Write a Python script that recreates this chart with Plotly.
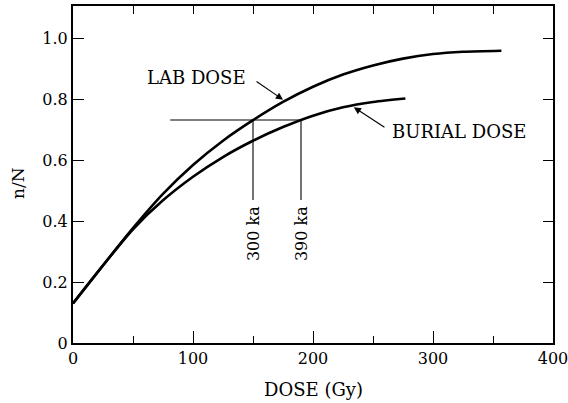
import plotly.graph_objects as go

# ---- data ----
lab_x = [0, 25, 50, 75, 100, 125, 150, 175, 200, 225, 250, 275, 300, 325, 357]
lab_y = [0.130, 0.255, 0.3775, 0.490, 0.585, 0.665, 0.7325, 0.7925, 0.8425, 0.8825,
         0.9125, 0.935, 0.950, 0.9575, 0.961]

burial_x = [0, 25, 50, 75, 100, 125, 150, 175, 200, 225, 250, 277]
burial_y = [0.130, 0.255, 0.374, 0.469, 0.5465, 0.6115, 0.665, 0.710, 0.7475, 0.775,
            0.7925, 0.804]

match_y = 0.733          # n/N level used for the dose match
match_x_start = 81       # left end of horizontal line
age_doses = [150, 190]   # doses where the level meets each curve
age_labels = ["300 ka", "390 ka"]
age_line_bottom = 0.47
age_label_y = 0.358

x_ticks = [0, 100, 200, 300, 400]
x_ticklabels = ["0", "100", "200", "300", "400"]
y_ticks = [0, 0.2, 0.4, 0.6, 0.8, 1.0]
y_ticklabels = ["0", "0.2", "0.4", "0.6", "0.8", "1.0"]

FONT = "DejaVu Serif"
BLACK = "black"

fig = go.Figure()

for xs, ys in ((lab_x, lab_y), (burial_x, burial_y)):
    fig.add_trace(go.Scatter(x=xs, y=ys, mode="lines",
                             line=dict(color=BLACK, width=2.6, shape="spline", smoothing=0.8),
                             hoverinfo="skip", showlegend=False))

# horizontal matching line
fig.add_trace(go.Scatter(x=[match_x_start, age_doses[-1]], y=[match_y, match_y], mode="lines",
                         line=dict(color=BLACK, width=1.1), hoverinfo="skip", showlegend=False))
# vertical lines and rotated labels
for d, lab in zip(age_doses, age_labels):
    fig.add_trace(go.Scatter(x=[d, d], y=[match_y, age_line_bottom], mode="lines",
                             line=dict(color=BLACK, width=1.1), hoverinfo="skip", showlegend=False))
    fig.add_annotation(x=d, y=age_label_y, text=lab, showarrow=False, textangle=-90,
                       font=dict(family=FONT, size=16, color=BLACK), xref="x", yref="y")

# invisible anchors for the top and right axes
fig.add_trace(go.Scatter(x=[0], y=[0], xaxis="x2", yaxis="y", mode="markers",
                         marker=dict(opacity=0), hoverinfo="skip", showlegend=False))
fig.add_trace(go.Scatter(x=[0], y=[0], xaxis="x", yaxis="y2", mode="markers",
                         marker=dict(opacity=0), hoverinfo="skip", showlegend=False))

# curve labels with arrows
fig.add_annotation(x=102.5, y=0.872, text="LAB DOSE", showarrow=False,
                   font=dict(family=FONT, size=18, color=BLACK))
fig.add_annotation(x=175, y=0.80, ax=151.7, ay=0.863, axref="x", ayref="y",
                   text="", showarrow=True, arrowhead=2, arrowsize=1.3, arrowwidth=1.1,
                   arrowcolor=BLACK)
fig.add_annotation(x=321.4, y=0.695, text="BURIAL DOSE", showarrow=False,
                   font=dict(family=FONT, size=18, color=BLACK))
fig.add_annotation(x=234, y=0.775, ax=260.8, ay=0.706, axref="x", ayref="y",
                   text="", showarrow=True, arrowhead=2, arrowsize=1.3, arrowwidth=1.1,
                   arrowcolor=BLACK)

# axis titles
fig.add_annotation(x=0.5, y=-0.139, xref="paper", yref="paper", text="DOSE (Gy)",
                   xanchor="center", yanchor="middle",
                   showarrow=False, font=dict(family=FONT, size=18, color=BLACK))
fig.add_annotation(x=-0.1146, y=0.475, xref="paper", yref="paper", text="n/N",
                   xanchor="center", yanchor="middle",
                   textangle=-90, showarrow=False, font=dict(family=FONT, size=17, color=BLACK))

fig.update_layout(
    width=568, height=403,
    margin=dict(l=73, r=15, t=6, b=60, autoexpand=False),
    paper_bgcolor="white", plot_bgcolor="white",
    font=dict(family=FONT, size=16, color=BLACK),
    showlegend=False,
    xaxis=dict(range=[0, 400], tickvals=x_ticks, ticktext=x_ticklabels,
               ticks="inside", ticklen=12, tickwidth=1.3, tickcolor=BLACK,
               showline=True, linecolor=BLACK, linewidth=2, showgrid=False, zeroline=False,
               minor=dict(dtick=50, tick0=0, ticks="inside", ticklen=7, tickwidth=1.2,
                          tickcolor=BLACK, showgrid=False),
               tickfont=dict(family=FONT, size=16), automargin=False,
               ticklabeloverflow="allow", fixedrange=True),
    xaxis2=dict(range=[0, 400], overlaying="x", side="top", dtick=50, tick0=0,
                ticks="inside", ticklen=8, tickwidth=1.2, tickcolor=BLACK,
                showticklabels=False, showline=True, linecolor=BLACK, linewidth=1.5,
                showgrid=False, zeroline=False, automargin=False, fixedrange=True),
    yaxis=dict(range=[0, 1.108], tickvals=y_ticks, ticktext=y_ticklabels,
               ticks="inside", ticklen=11, tickwidth=1.3, tickcolor=BLACK,
               showline=True, linecolor=BLACK, linewidth=2, showgrid=False, zeroline=False,
               tickfont=dict(family=FONT, size=16), automargin=False,
               ticklabeloverflow="allow", fixedrange=True),
    yaxis2=dict(range=[0, 1.108], overlaying="y", side="right", tickvals=y_ticks,
                ticks="inside", ticklen=10, tickwidth=1.2, tickcolor=BLACK,
                showticklabels=False, showline=True, linecolor=BLACK, linewidth=1.5,
                showgrid=False, zeroline=False, automargin=False, fixedrange=True),
)

fig.write_html("out.html", config={"displayModeBar": False},
               post_script="document.body.style.margin='0';document.body.style.overflow='hidden';")
